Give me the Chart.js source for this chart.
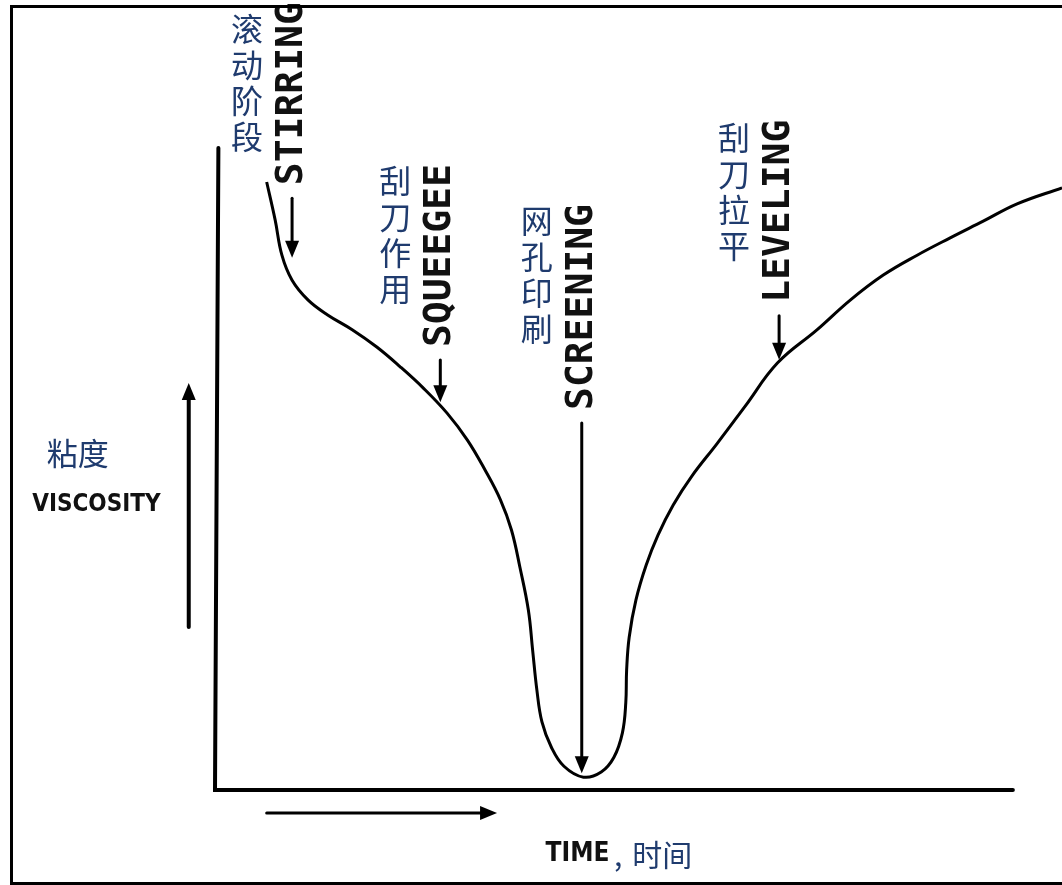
<!DOCTYPE html>
<html>
<head>
<meta charset="utf-8">
<script src="https://cdn.jsdelivr.net/npm/chart.js@4/dist/chart.umd.min.js"></script>
<style>
  html, body { margin: 0; padding: 0; background: #fff; }
  canvas { display: block; }
</style>
</head>
<body>
<canvas id="viscChart" width="1062" height="885"></canvas>
<script>
// Viscosity vs time (arbitrary units, 0..100 on both axes)
const timeValues = [6.1, 7.1, 7.9, 9.1, 11.0, 13.3, 16.2, 19.1, 21.8, 24.6, 27.4, 29.8, 31.9, 33.7,
  35.0, 36.0, 37.0, 37.5, 38.0, 38.6, 39.7, 41.2, 43.5, 45.6, 47.1, 48.1, 48.5, 48.6, 48.9, 49.7,
  50.9, 52.3, 54.1, 56.3, 59.3, 62.6, 66.4, 71.1, 75.0, 78.9, 82.9, 86.8, 90.7, 94.7, 100];
const viscosityValues = [94.7, 88.8, 83.3, 79.4, 76.3, 74.0, 71.7, 69.0, 66.0, 62.6, 58.7, 54.5, 49.8, 45.2,
  40.5, 34.7, 28.0, 21.8, 15.6, 10.6, 6.7, 3.7, 2.0, 2.8, 5.1, 8.9, 13.6, 18.7, 23.8, 29.6,
  35.0, 39.7, 44.4, 48.9, 54.0, 59.8, 66.5, 71.7, 76.3, 80.2, 83.3, 86.0, 88.6, 91.3, 93.8];

// Process stages marked on the curve
const stageNames = ['STIRRING', 'SQUEEGEE', 'SCREENING', 'LEVELING'];
const stageNamesZh = ['滚动阶段', '刮刀作用', '网孔印刷', '刮刀拉平'];
const stageTimes = [9.1, 26.6, 43.3, 66.6];
const stageLabelBase = [94.2, 69.0, 59.2, 75.9];   // where the rotated label starts
const stageArrowTip = [82.9, 60.4, 2.6, 67.0];
const stageZhTop = [121.0, 97.4, 91.1, 104.0];

const yTitle = ['粘度', 'VISCOSITY'];
const xTitle = ['TIME', ',', '时间'];

const BLUE = '#1f3b6e';

function arrow(ctx, x1, y1, x2, y2, w) {
  const a = Math.atan2(y2 - y1, x2 - x1);
  const len = 17, half = 7;
  ctx.lineWidth = w || 3;
  ctx.beginPath();
  ctx.moveTo(x1, y1);
  ctx.lineTo(x2 - Math.cos(a) * len * 0.8, y2 - Math.sin(a) * len * 0.8);
  ctx.stroke();
  ctx.beginPath();
  ctx.moveTo(x2, y2);
  ctx.lineTo(x2 - Math.cos(a) * len - Math.sin(a) * half, y2 - Math.sin(a) * len + Math.cos(a) * half);
  ctx.lineTo(x2 - Math.cos(a) * len + Math.sin(a) * half, y2 - Math.sin(a) * len - Math.cos(a) * half);
  ctx.closePath();
  ctx.fill();
}

const annotate = {
  id: 'annotate',
  afterDraw(chart) {
    const ctx = chart.ctx;
    const px = v => chart.scales.x.getPixelForValue(v);
    const py = v => chart.scales.y.getPixelForValue(v);
    ctx.save();
    ctx.strokeStyle = '#000';
    ctx.fillStyle = '#000';
    ctx.lineCap = 'round';

    // axes
    ctx.lineWidth = 4;
    ctx.beginPath();
    ctx.moveTo(px(0.4), py(100));
    ctx.lineTo(px(0), py(0));
    ctx.lineTo(px(94.2), py(0));
    ctx.stroke();

    // direction arrows
    arrow(ctx, px(-3.1), py(25.4), px(-3.1), py(63.4), 4);
    arrow(ctx, px(6.1), py(-3.6), px(33.3), py(-3.6), 3);

    // stage labels and arrows
    stageNames.forEach((name, i) => {
      const x = px(stageTimes[i]);
      const base = py(stageLabelBase[i]);
      ctx.save();
      ctx.translate(x, base);
      ctx.rotate(-Math.PI / 2);
      ctx.font = 'bold 38px "DejaVu Sans Mono"';
      ctx.textAlign = 'left';
      ctx.textBaseline = 'middle';
      ctx.fillStyle = '#111';
      ctx.fillText(name, 0, 0);
      ctx.restore();
      arrow(ctx, x, base + 13, x, py(stageArrowTip[i]), 3);

      ctx.save();
      ctx.fillStyle = BLUE;
      ctx.font = '32px "Noto Sans CJK SC"';
      ctx.textAlign = 'center';
      ctx.textBaseline = 'top';
      const zx = x - 45;
      let zy = py(stageZhTop[i]);
      for (const ch of stageNamesZh[i]) {
        ctx.fillText(ch, zx, zy);
        zy += 36;
      }
      ctx.restore();
    });

    // axis titles
    ctx.textAlign = 'center';
    ctx.textBaseline = 'middle';
    ctx.fillStyle = BLUE;
    ctx.font = '31px "Noto Sans CJK SC"';
    ctx.fillText(yTitle[0], px(-16.2), py(52.5));
    ctx.fillStyle = '#111';
    ctx.font = 'bold 24px "DejaVu Sans Condensed"';
    ctx.fillText(yTitle[1], px(-14.0), py(44.4));
    ctx.font = 'bold 26px "DejaVu Sans Condensed"';
    ctx.fillText(xTitle[0], px(42.8), py(-10.0));
    ctx.fillStyle = BLUE;
    ctx.font = '30px "Noto Sans CJK SC"';
    ctx.fillText(xTitle[1], px(47.6), py(-10.0));
    ctx.fillText(xTitle[2], px(52.8), py(-10.0));

    // outer frame
    ctx.strokeStyle = '#000';
    ctx.lineWidth = 3;
    ctx.strokeRect(11.5, 6.5, 1100, 877);
    ctx.restore();
  }
};

new Chart(document.getElementById('viscChart'), {
  type: 'line',
  data: {
    datasets: [{
      label: 'Viscosity',
      data: timeValues.map((t, i) => ({ x: t, y: viscosityValues[i] })),
      borderColor: '#000',
      borderWidth: 3,
      pointRadius: 0,
      tension: 0.4,
      fill: false
    }]
  },
  options: {
    responsive: false,
    devicePixelRatio: 1,
    animation: false,
    layout: { padding: { left: 215, right: 0, top: 148, bottom: 95 } },
    plugins: { legend: { display: false }, tooltip: { enabled: false } },
    scales: {
      x: { type: 'linear', min: 0, max: 100, display: false },
      y: { type: 'linear', min: 0, max: 100, display: false }
    }
  },
  plugins: [annotate]
});
</script>
</body>
</html>
